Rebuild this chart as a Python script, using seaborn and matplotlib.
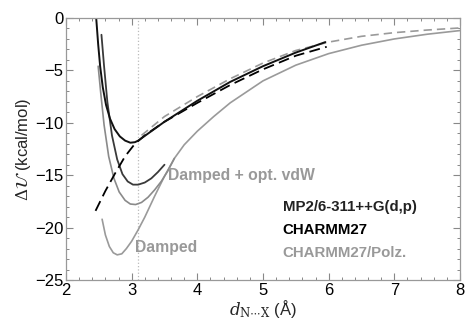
import matplotlib
matplotlib.use("Agg")
import matplotlib.pyplot as plt
import seaborn as sns
import pandas as pd
from matplotlib.ticker import MultipleLocator

# ---- data ----
mp2_x = [2.46, 2.49, 2.52, 2.56, 2.61, 2.67, 2.74, 2.82, 2.90, 2.98, 3.05, 3.10, 3.30, 3.50, 3.75, 4.00, 4.50, 5.00, 5.50, 5.95]
mp2_y = [0.0, -2.5, -4.6, -6.6, -8.3, -9.6, -10.6, -11.3, -11.7, -11.9, -11.85, -11.7, -10.8, -9.9, -8.9, -7.9, -6.1, -4.6, -3.3, -2.3]

ch27_x = [2.45, 2.60, 2.75, 2.90, 3.05, 3.20, 3.50, 4.00, 4.50, 5.00, 5.50, 5.97]
ch27_y = [-18.4, -16.5, -14.8, -13.2, -12.0, -11.2, -9.9, -8.1, -6.4, -4.9, -3.6, -2.75]

polz_x = [3.15, 3.50, 4.00, 4.50, 5.00, 5.50, 6.00, 6.50, 7.00, 7.50, 8.00]
polz_y = [-11.2, -9.4, -7.5, -5.8, -4.3, -3.1, -2.3, -1.75, -1.4, -1.15, -0.95]

dark_x = [2.54, 2.58, 2.63, 2.70, 2.78, 2.86, 2.94, 3.02, 3.10, 3.20, 3.30, 3.40, 3.50]
dark_y = [-1.6, -4.6, -8.0, -11.2, -13.5, -14.9, -15.6, -15.9, -15.9, -15.7, -15.3, -14.7, -14.0]

optvdw_x = [2.49, 2.53, 2.58, 2.65, 2.73, 2.81, 2.90, 2.98, 3.06, 3.15, 3.25, 3.35, 3.45, 3.55, 3.65]
optvdw_y = [-4.6, -7.2, -10.2, -13.2, -15.3, -16.6, -17.4, -17.75, -17.8, -17.6, -17.1, -16.4, -15.6, -14.6, -13.4]

damped_x = [2.55, 2.60, 2.66, 2.72, 2.78, 2.85, 2.92, 3.00, 3.10, 3.20, 3.35, 3.50, 3.65, 3.80, 4.00, 4.25, 4.50, 5.00, 5.50, 6.00, 6.50, 7.00, 7.50, 8.00]
damped_y = [-19.2, -20.7, -21.8, -22.4, -22.6, -22.5, -22.0, -21.3, -20.2, -19.0, -17.0, -15.1, -13.4, -12.1, -10.8, -9.4, -8.1, -6.0, -4.5, -3.4, -2.6, -2.0, -1.55, -1.2]

legend_labels = ["MP2/6-311++G(d,p)", "CHARMM27", "CHARMM27/Polz."]
legend_colors = ["#222222", "#000000", "#999999"]

# ---- plot ----
sns.set_style("ticks")
plt.rcParams["font.family"] = ["Liberation Sans", "DejaVu Sans"]
plt.rcParams["mathtext.fontset"] = "dejavuserif"

fig = plt.figure(figsize=(4.67, 3.27), dpi=100)
ax = fig.add_axes([0.1413, 0.1437, 0.8437, 0.8013])

def draw(x, y, color, ls, lw):
    df = pd.DataFrame({"x": x, "y": y})
    sns.lineplot(data=df, x="x", y="y", ax=ax, color=color, linestyle=ls,
                 linewidth=lw, sort=False, estimator=None)

ax.axvline(3.1, color="#bbbbbb", linestyle=":", linewidth=0.9, zorder=0)

draw(damped_x, damped_y, "#9a9a9a", "-", 1.2)
draw(optvdw_x, optvdw_y, "#8a8a8a", "-", 1.2)
draw(dark_x, dark_y, "#3a3a3a", "-", 1.3)
draw(polz_x, polz_y, "#9a9a9a", (0, (5, 3)), 1.2)
draw(ch27_x, ch27_y, "#000000", (0, (6, 3)), 1.3)
draw(mp2_x, mp2_y, "#111111", "-", 1.4)

ax.set_xlim(2, 8)
ax.set_ylim(-25, 0)
ax.xaxis.set_major_locator(MultipleLocator(1))
ax.xaxis.set_minor_locator(MultipleLocator(0.2))
ax.yaxis.set_major_locator(MultipleLocator(5))
ax.yaxis.set_minor_locator(MultipleLocator(1))
ax.tick_params(which="both", direction="in", top=True, right=True, colors="#888888",
               labelcolor="black", labelsize=12)
ax.tick_params(which="major", length=5, width=0.8, pad=2)
ax.tick_params(which="minor", length=2.5, width=0.7)
for s in ax.spines.values():
    s.set_color("#999999")
    s.set_linewidth(0.9)

ax.set_xlabel(r"$d_{\mathrm{N\cdots X}}$ (Å)", fontsize=12, labelpad=0)
ax.set_ylabel(r"$\Delta\mathcal{U}$ (kcal/mol)", fontsize=12, labelpad=1)

ax.text(3.55, -15.0, "Damped + opt. vdW", color="#999999", fontsize=11.3,
        fontweight="bold", va="center", ha="left")
ax.text(3.05, -21.9, "Damped", color="#999999", fontsize=11.3,
        fontweight="bold", va="center", ha="left")
for lab, col, yy in zip(legend_labels, legend_colors, [-18.0, -20.2, -22.4]):
    ax.text(5.3, yy, lab, color=col, fontsize=10.8, fontweight="bold",
            va="center", ha="left")

fig.savefig("out.png", dpi=100)
